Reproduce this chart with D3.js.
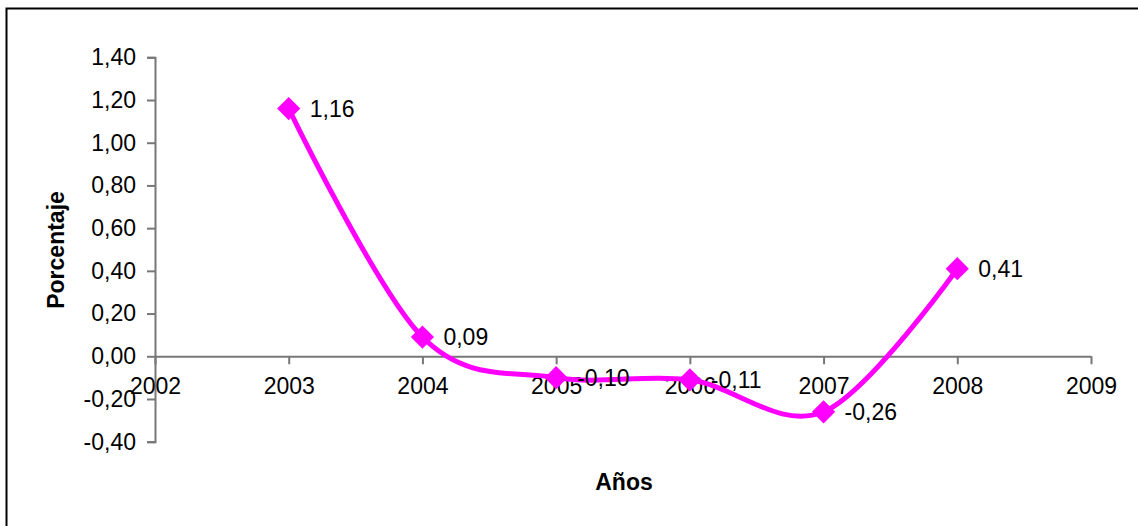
<!DOCTYPE html>
<html>
<head>
<meta charset="utf-8">
<script src="https://cdn.jsdelivr.net/npm/d3@7"></script>
<style>
  html, body { margin: 0; padding: 0; background: #fff; }
  svg { display: block; font-family: "Liberation Sans", Arial, sans-serif; }
</style>
</head>
<body>
<svg id="chart" width="1138" height="526"></svg>
<script>
// Yearly percentage values
const years = [2003, 2004, 2005, 2006, 2007, 2008];
const values = [1.16, 0.09, -0.10, -0.11, -0.26, 0.41];
const labels = ["1,16", "0,09", "-0,10", "-0,11", "-0,26", "0,41"];
const xTicks = [2002, 2003, 2004, 2005, 2006, 2007, 2008, 2009];
const yTicks = [-0.40, -0.20, 0.00, 0.20, 0.40, 0.60, 0.80, 1.00, 1.20, 1.40];

const svg = d3.select("#chart");
const fmt = v => d3.format(".2f")(v).replace(".", ",").replace("−", "-");

// Outer frame
svg.append("rect")
  .attr("x", 6.5).attr("y", 8.5)
  .attr("width", 1140).attr("height", 530)
  .attr("fill", "none").attr("stroke", "#000").attr("stroke-width", 2);

const x = d3.scaleLinear().domain([2002, 2009]).range([155, 1091]);
const y = d3.scaleLinear().domain([-0.40, 1.40]).range([441.7, 57.3]);

const axisColor = "#777";
const fontSize = 23;

// Y axis
const yAxis = svg.append("g")
  .attr("transform", `translate(${x(2002)},0)`)
  .call(d3.axisLeft(y).tickValues(yTicks).tickFormat(fmt).tickSize(8).tickPadding(11));
yAxis.select(".domain").attr("stroke", axisColor).attr("stroke-width", 2);
yAxis.selectAll(".tick line").attr("stroke", axisColor).attr("stroke-width", 2);
yAxis.selectAll(".tick text")
  .attr("font-size", fontSize).attr("fill", "#000")
  .attr("font-family", "Liberation Sans, Arial, sans-serif");

// X axis at zero
const xAxis = svg.append("g")
  .attr("transform", `translate(0,${y(0)})`)
  .call(d3.axisBottom(x).tickValues(xTicks).tickFormat(d3.format("d")).tickSize(8).tickPadding(13).tickSizeOuter(0));
xAxis.select(".domain").attr("stroke", axisColor).attr("stroke-width", 2);
xAxis.selectAll(".tick line").attr("stroke", axisColor).attr("stroke-width", 2);
xAxis.selectAll(".tick text")
  .attr("font-size", fontSize).attr("fill", "#000")
  .attr("font-family", "Liberation Sans, Arial, sans-serif");

// Axis titles
svg.append("text")
  .attr("x", 624).attr("y", 490)
  .attr("text-anchor", "middle")
  .attr("font-size", fontSize).attr("font-weight", "bold")
  .text("Años");

svg.append("text")
  .attr("transform", `translate(64,250) rotate(-90)`)
  .attr("text-anchor", "middle")
  .attr("font-size", fontSize).attr("font-weight", "bold")
  .text("Porcentaje");

const pts = years.map((yr, i) => [x(yr), y(values[i])]);

// Smoothed series line
const line = d3.line().curve(d3.curveCatmullRom.alpha(0));
svg.append("path")
  .attr("d", line(pts))
  .attr("fill", "none")
  .attr("stroke", "#FF00FF")
  .attr("stroke-width", 5)
  .attr("stroke-linejoin", "round");

// Diamond markers
const sym = d3.symbol().type(d3.symbolSquare).size(270);
svg.selectAll("path.marker")
  .data(pts)
  .join("path")
  .attr("class", "marker")
  .attr("d", sym)
  .attr("transform", d => `translate(${d[0]},${d[1]}) rotate(45)`)
  .attr("fill", "#FF00FF");

// Value labels
svg.selectAll("text.value")
  .data(years)
  .join("text")
  .attr("class", "value")
  .attr("x", (d) => x(d) + 21)
  .attr("y", (d, i) => y(values[i]))
  .attr("dy", "0.36em")
  .attr("font-size", fontSize)
  .attr("fill", "#000")
  .text((d, i) => labels[i]);
</script>
</body>
</html>
